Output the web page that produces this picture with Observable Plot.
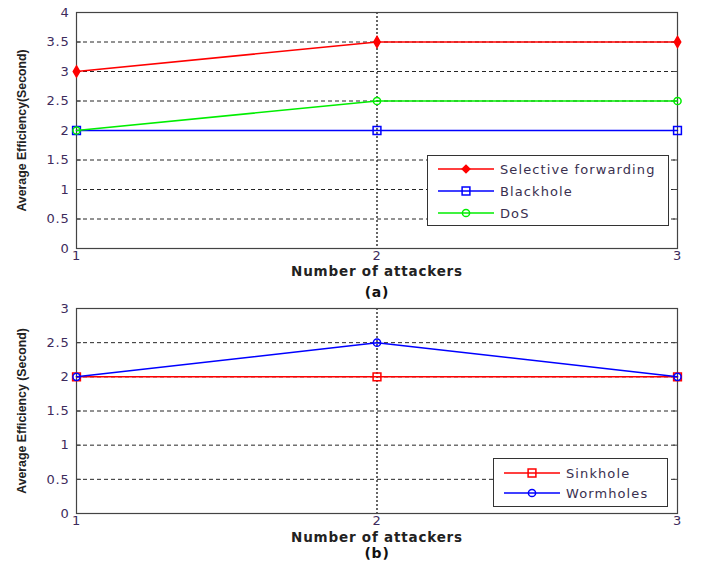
<!DOCTYPE html>
<html>
<head>
<meta charset="utf-8">
<script src="https://cdn.jsdelivr.net/npm/d3@7"></script>
<script src="https://cdn.jsdelivr.net/npm/@observablehq/plot@0.6"></script>
<style>
  body { margin: 0; background: #fff; }
  #wrap { position: relative; width: 701px; height: 562px; overflow: hidden; }
  #wrap svg { display: block; }
  #wrap svg text { letter-spacing: 0.8px; }
  #wrap svg .ylab text, #wrap svg text.ylab { letter-spacing: 0px; }
  .legend { position: absolute; background: #fff; border: 1px solid #333; box-sizing: border-box;
            font-family: "DejaVu Sans", Verdana, sans-serif; font-size: 13px; color: #3a3050; letter-spacing: 1.1px; }
  .legend .row { position: absolute; left: 0; height: 16px; display: flex; align-items: center; white-space: nowrap; }
  .legend .row svg { margin-right: 6px; }
</style>
</head>
<body>
<div id="wrap"></div>
<script>
// ---- data ----
const attackers = [1, 2, 3];
const selectiveForwarding = [3, 3.5, 3.5];
const blackhole = [2, 2, 2];
const dos = [2, 2.5, 2.5];
const sinkhole = [2, 2, 2];
const wormholes = [2, 2.5, 2];
const yTicksA = [0, 0.5, 1, 1.5, 2, 2.5, 3, 3.5, 4];
const yTicksB = [0, 0.5, 1, 1.5, 2, 2.5, 3];
const xTicks = [1, 2, 3];

const seriesA = [
  {name: "Selective forwarding", values: selectiveForwarding, color: "#ff0000", symbol: "diamond", filled: true, r: 3.4},
  {name: "Blackhole", values: blackhole, color: "#0000ff", symbol: "square", filled: false, r: 4.4},
  {name: "DoS", values: dos, color: "#00ee00", symbol: "circle", filled: false, r: 3.6}
];
const seriesB = [
  {name: "Sinkhole", values: sinkhole, color: "#ff0000", symbol: "square", filled: false, r: 4.4},
  {name: "Wormholes", values: wormholes, color: "#0000ff", symbol: "circle", filled: false, r: 3.6}
];

const font = '"DejaVu Sans", Verdana, sans-serif';
const narrowBold = '"Liberation Sans Narrow", "Arial Narrow", "Liberation Sans", Arial, sans-serif';
const fmt = d => String(d);

function panel(series, yTicks, yLabel, caption, opts) {
  const rows = series.flatMap(s => attackers.map((x, i) => ({x, y: s.values[i], name: s.name})));
  const yMax = yTicks[yTicks.length - 1];
  const inner = yTicks.filter(t => t > 0 && t < yMax);
  const marks = [
    Plot.gridY(inner, {stroke: "#000", strokeOpacity: 0.85, strokeDasharray: "4,3"}),
    Plot.ruleX([2], {stroke: "#000", strokeDasharray: "2,2", strokeWidth: 1.2}),
    Plot.frame({stroke: "#444", strokeWidth: 1.2}),
    Plot.axisY(yTicks, {anchor: "left", tickSize: -5, tickPadding: 12, stroke: "#444", fill: "#3d2b5c",
      tickFormat: fmt, fontSize: 13}),
    Plot.axisY(yTicks, {anchor: "right", tickSize: -5, tickFormat: () => "", stroke: "#444"}),
    Plot.axisX(xTicks, {anchor: "bottom", tickSize: 0, tickPadding: 2, fill: "#3d2b5c", tickFormat: fmt, fontSize: 13})
  ];
  for (const s of series) {
    const d = rows.filter(r => r.name === s.name);
    marks.push(Plot.line(d, {x: "x", y: "y", stroke: s.color, strokeWidth: 1.5}));
    marks.push(Plot.dot(d, {x: "x", y: "y", symbol: s.symbol, r: s.r, stroke: s.color, strokeWidth: 1.5,
      fill: s.filled ? s.color : "none"}));
  }
  marks.push(Plot.text(["Number of attackers"], {frameAnchor: "bottom", lineAnchor: "middle", dy: opts.xlabelDy,
    fontWeight: "bold", fontSize: 13.5, fill: "#222"}));
  marks.push(Plot.text([caption], {frameAnchor: "bottom", lineAnchor: "middle", dy: opts.captionDy,
    fontWeight: "bold", fontSize: 14, fill: "#111"}));
  marks.push(Plot.text([yLabel], {frameAnchor: "left", textAnchor: "middle", rotate: -90, dx: -54, fontWeight: "bold",
    fontSize: 12.3, fontFamily: narrowBold, fill: "#222", className: "ylab"}));
  return Plot.plot({
    width: 701, height: opts.height,
    marginLeft: 76, marginRight: 24, marginTop: opts.mt, marginBottom: opts.mb,
    style: {fontFamily: font, fontSize: "13px", color: "#3d2b5c", background: "#fff"},
    x: {domain: [1, 3], label: null},
    y: {domain: [0, yMax], label: null},
    marks
  });
}

function legend(series, box) {
  const div = document.createElement("div");
  div.className = "legend";
  Object.assign(div.style, {left: box.left + "px", top: box.top + "px", width: box.width + "px", height: box.height + "px"});
  series.forEach((s, i) => {
    const row = document.createElement("div");
    row.className = "row";
    row.style.top = (box.rows[i] - 8) + "px";
    row.style.left = "9px";
    const ns = "http://www.w3.org/2000/svg";
    const sv = document.createElementNS(ns, "svg");
    sv.setAttribute("width", 57); sv.setAttribute("height", 14);
    const ln = document.createElementNS(ns, "line");
    ln.setAttribute("x1", 1); ln.setAttribute("x2", 57); ln.setAttribute("y1", 7); ln.setAttribute("y2", 7);
    ln.setAttribute("stroke", s.color); ln.setAttribute("stroke-width", 1.5);
    sv.appendChild(ln);
    const p = document.createElementNS(ns, "path");
    p.setAttribute("d", d3.symbol(s.symbol === "diamond" ? d3.symbolDiamond2 : s.symbol === "square" ? d3.symbolSquare : d3.symbolCircle,
      Math.PI * s.r * s.r)());
    p.setAttribute("transform", "translate(29,7)");
    p.setAttribute("stroke", s.color); p.setAttribute("stroke-width", 1.5);
    p.setAttribute("fill", s.filled ? s.color : "none");
    sv.appendChild(p);
    row.appendChild(sv);
    const t = document.createElement("span");
    t.textContent = s.name;
    row.appendChild(t);
    div.appendChild(row);
  });
  return div;
}

const wrap = document.getElementById("wrap");
wrap.appendChild(panel(seriesA, yTicksA, "Average Efficiency(Second)", "(a)",
  {height: 302, mt: 12, mb: 54, xlabelDy: 23, captionDy: 44}));
wrap.appendChild(panel(seriesB, yTicksB, "Average Efficiency (Second)", "(b)",
  {height: 260, mt: 6, mb: 49, xlabelDy: 24, captionDy: 40}));
wrap.appendChild(legend(seriesA, {left: 427, top: 155, width: 242, height: 71, rows: [13, 35, 57]}));
wrap.appendChild(legend(seriesB, {left: 493, top: 458, width: 175, height: 49, rows: [14, 34]}));
</script>
</body>
</html>
